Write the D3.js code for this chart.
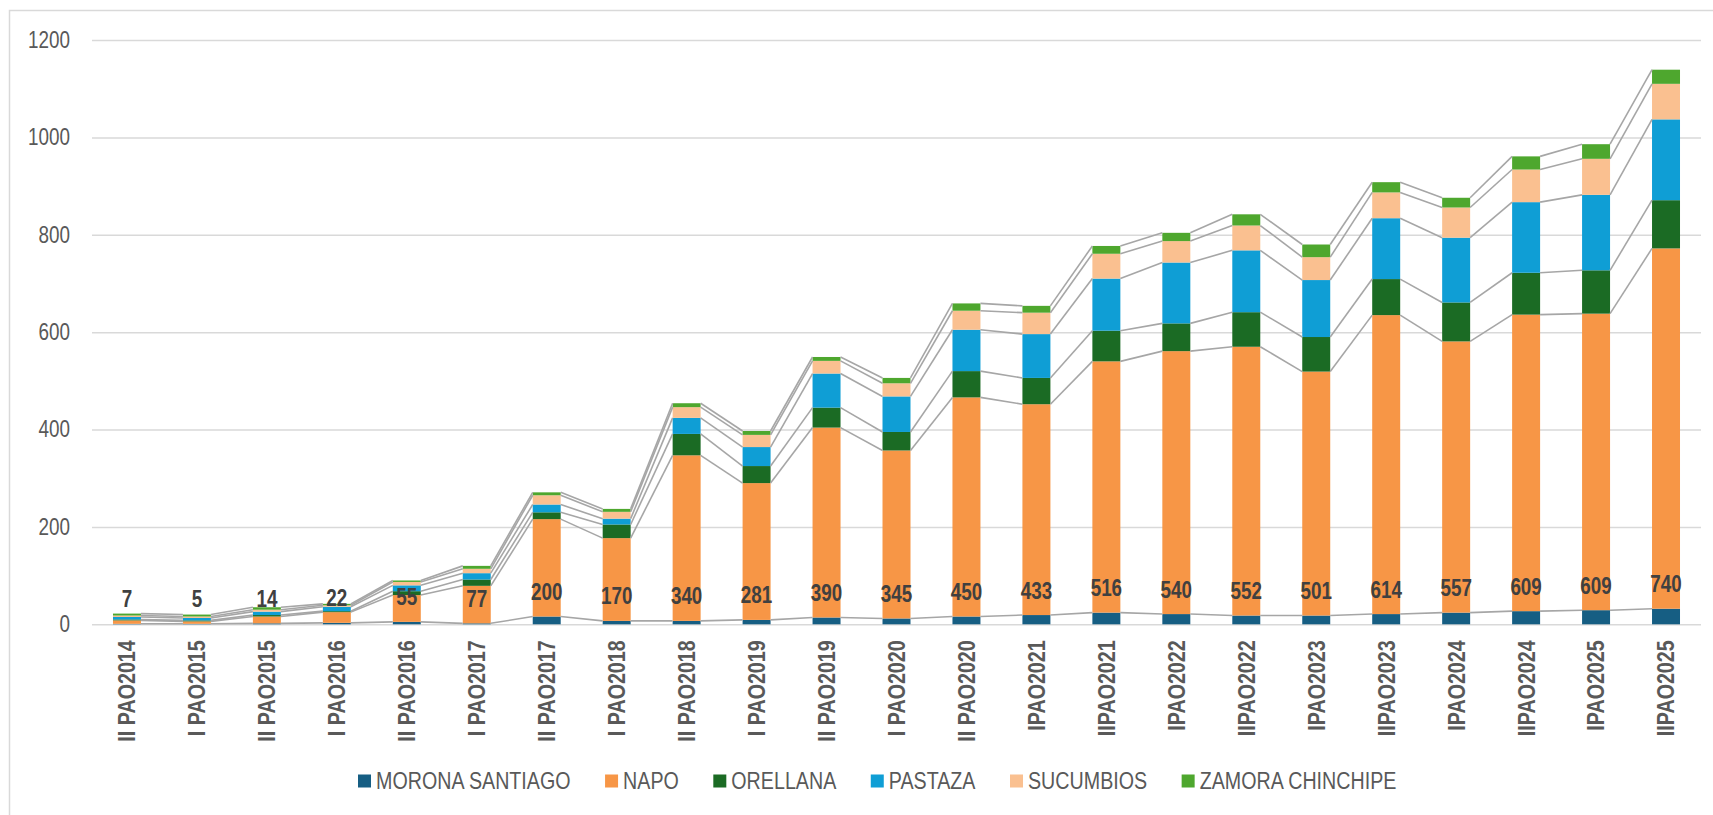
<!DOCTYPE html>
<html>
<head>
<meta charset="utf-8">
<script src="https://cdn.jsdelivr.net/npm/d3@7"></script>
<style>
  body { margin: 0; background: #fff; }
  svg text { font-family: "Liberation Sans", Arial, sans-serif; }
</style>
</head>
<body>
<script>
const categories = [
    'II PAO2014', 'I PAO2015', 'II PAO2015', 'I PAO2016', 'II PAO2016', 'I PAO2017',
    'II PAO2017', 'I PAO2018', 'II PAO2018', 'I PAO2019', 'II PAO2019', 'I PAO2020',
    'II PAO2020', 'IPAO2021', 'IIPAO2021', 'IPAO2022', 'IIPAO2022', 'IPAO2023',
    'IIPAO2023', 'IPAO2024', 'IIPAO2024', 'IPAO2025', 'IIPAO2025'
];

const morona    = [1, 1, 2, 3, 5, 2, 16, 7, 7, 9, 14, 12, 16, 19, 24, 21, 18, 18, 21, 24, 27, 29, 32];
const napo      = [7, 5, 14, 22, 55, 77, 200, 170, 340, 281, 390, 345, 450, 433, 516, 540, 552, 501, 614, 557, 609, 609, 740];
const orellana  = [2, 2, 3, 2, 8, 13, 14, 28, 44, 35, 41, 38, 54, 54, 63, 57, 71, 71, 74, 80, 86, 89, 99];
const pastaza   = [5, 5, 7, 9, 12, 13, 16, 12, 33, 39, 70, 73, 85, 90, 107, 125, 127, 117, 125, 133, 145, 155, 166];
const sucumbios = [3, 3, 4, 3, 7, 9, 19, 14, 22, 25, 26, 27, 39, 44, 51, 44, 51, 47, 53, 62, 67, 74, 73];
const zamora    = [4, 4, 5, 3, 3, 6, 6, 6, 8, 8, 8, 11, 15, 14, 16, 17, 23, 26, 21, 20, 27, 30, 29];

const seriesNames = ['MORONA SANTIAGO', 'NAPO', 'ORELLANA', 'PASTAZA', 'SUCUMBIOS', 'ZAMORA CHINCHIPE'];
const seriesValues = [morona, napo, orellana, pastaza, sucumbios, zamora];
const colors = ['#165e83', '#f79646', '#1b6b24', '#0f9ed5', '#fac090', '#4ea72e'];
const yTicks = [0, 200, 400, 600, 800, 1000, 1200];

const W = 1713, H = 815;
const plot = {left: 92, right: 1701, top: 40, bottom: 624.3};
const narrow = 0.82; // squeeze Liberation Sans to look like Arial Narrow

const rows = categories.map((c, i) => {
    const r = {cat: c};
    seriesNames.forEach((s, k) => r[s] = seriesValues[k][i]);
    return r;
});
const stacked = d3.stack().keys(seriesNames)(rows);

const svg = d3.select("body").append("svg")
    .attr("width", W)
    .attr("height", H);

// chart frame
svg.append("rect")
    .attr("x", 9.5).attr("y", 10.5)
    .attr("width", W + 20).attr("height", H + 20)
    .attr("fill", "none")
    .attr("stroke", "#d9d9d9")
    .attr("stroke-width", 1.5);

const x = d3.scaleBand()
    .domain(categories)
    .range([plot.left, plot.right])
    .padding(0);
const barW = x.bandwidth() * 0.4;

const y = d3.scaleLinear()
    .domain([0, 1200])
    .range([plot.bottom, plot.top]);

// y axis + gridlines
const yAxis = svg.append("g")
    .attr("transform", `translate(${plot.left},0)`)
    .call(d3.axisLeft(y).tickValues(yTicks).tickFormat(d3.format("d"))
        .tickSize(-(plot.right - plot.left)).tickPadding(22));
yAxis.select(".domain").remove();
yAxis.selectAll(".tick line").attr("stroke", "#d9d9d9").attr("stroke-width", 1.5);
yAxis.selectAll(".tick text")
    .attr("fill", "#595959")
    .attr("x", 0)
    .attr("transform", `translate(-22,0) scale(${narrow},1)`)
    .style("font-size", "23px");

// x axis labels
const xAxis = svg.append("g")
    .attr("transform", `translate(0,${plot.bottom})`)
    .call(d3.axisBottom(x).tickSize(0));
xAxis.select(".domain").remove();
xAxis.selectAll(".tick text")
    .attr("fill", "#595959")
    .attr("x", 0)
    .attr("y", 0)
    .attr("dy", "0.35em")
    .attr("transform", `rotate(-90) translate(-16,0) scale(${narrow},1)`)
    .style("text-anchor", "end")
    .style("font-size", "24px")
    .style("font-weight", "bold");

// stacked bars
svg.append("g").selectAll("g")
    .data(stacked)
    .enter().append("g")
    .attr("fill", (d, k) => colors[k])
    .selectAll("rect")
    .data(d => d)
    .enter().append("rect")
    .attr("x", d => x(d.data.cat) + (x.bandwidth() - barW) / 2)
    .attr("y", d => y(d[1]))
    .attr("width", barW)
    .attr("height", d => y(d[0]) - y(d[1]));

// series lines between bars
const lineGen = d3.line();
stacked.forEach(layer => {
    for (let i = 0; i < categories.length - 1; i++) {
        const x0 = x(categories[i]) + (x.bandwidth() + barW) / 2;
        const x1 = x(categories[i + 1]) + (x.bandwidth() - barW) / 2;
        svg.append("path")
            .attr("d", lineGen([[x0, y(layer[i][1])], [x1, y(layer[i + 1][1])]]))
            .attr("stroke", "#a6a6a6")
            .attr("stroke-width", 1.6)
            .attr("fill", "none");
    }
});

// NAPO labels at inside base
svg.append("g").selectAll("text")
    .data(stacked[1])
    .enter().append("text")
    .attr("transform", d => `translate(${x(d.data.cat) + x.bandwidth() / 2},${y(d[0]) - 16.5}) scale(${narrow},1)`)
    .attr("text-anchor", "middle")
    .attr("fill", "#404040")
    .style("font-size", "23px")
    .style("font-weight", "bold")
    .text((d, i) => napo[i]);

// legend
const legend = svg.append("g").attr("transform", "translate(358,781)");
let lx = 0;
seriesNames.forEach((s, k) => {
    legend.append("rect")
        .attr("x", lx).attr("y", -6.5)
        .attr("width", 13).attr("height", 13)
        .attr("fill", colors[k]);
    const t = legend.append("text")
        .attr("transform", `translate(${lx + 18},0) scale(${narrow},1)`)
        .attr("dy", "0.35em")
        .attr("fill", "#595959")
        .style("font-size", "24px")
        .text(s);
    lx += 18 + t.node().getComputedTextLength() * narrow + 34.5;
});
</script>
</body>
</html>
